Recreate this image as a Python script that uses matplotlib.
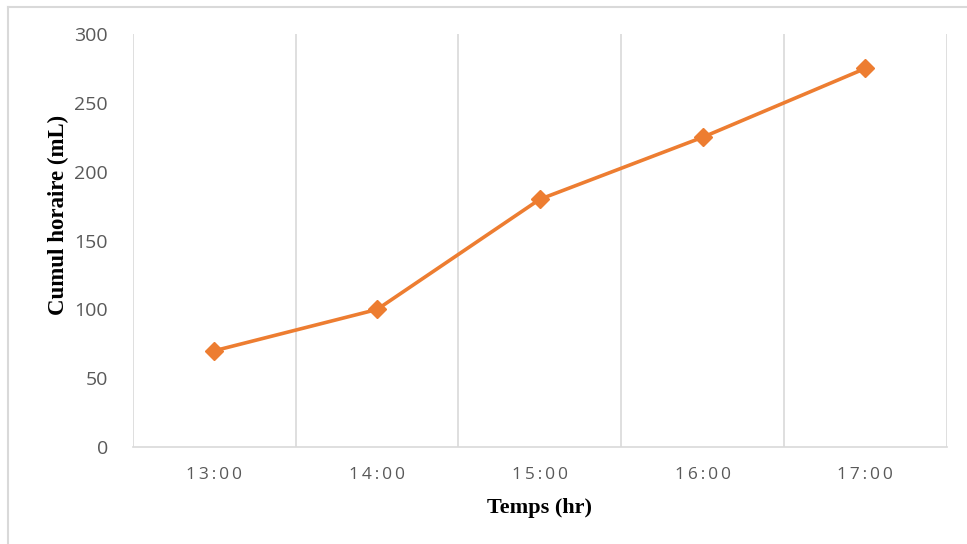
import matplotlib
matplotlib.use("Agg")
import matplotlib.pyplot as plt
from matplotlib.lines import Line2D

hours = ["13:00", "14:00", "15:00", "16:00", "17:00"]
cumul = [70, 100, 180, 225, 275]
y_ticks = [0, 50, 100, 150, 200, 250, 300]

grid_color = "#D9D9D9"
text_color = "#595959"
line_color = "#ED7D31"

fig = plt.figure(figsize=(9.67, 5.44), dpi=100)
ax = fig.add_axes([0.1375, 0.178, 0.8415, 0.7595])

x = list(range(len(hours)))
ax.plot(x, cumul, color=line_color, linewidth=2.6, marker="D",
        markersize=9.5, markeredgecolor=line_color, markerfacecolor=line_color,
        solid_capstyle="round", zorder=3, clip_on=False)

ax.set_xlim(-0.5, len(hours) - 0.5)
ax.set_ylim(0, 300)

# category boundary gridlines
for b in [i - 0.5 for i in range(len(hours) + 1)]:
    ax.axvline(b, color=grid_color, linewidth=1.2, zorder=1)

for s in ["top", "right", "left"]:
    ax.spines[s].set_visible(False)
ax.spines["bottom"].set_color(grid_color)
ax.spines["bottom"].set_linewidth(1.2)

def spaced(s):
    return "\u2009".join(s)

ax.set_xticks(x)
ax.set_xticklabels([spaced(h) for h in hours], fontsize=12.5,
                   color=text_color, family=["Open Sans", "DejaVu Sans"])
ax.set_yticks(y_ticks)
ax.set_yticklabels([str(v) for v in y_ticks], fontsize=14,
                   color=text_color, family="Open Sans")
ax.tick_params(axis="both", length=0)
ax.tick_params(axis="x", pad=14)
ax.tick_params(axis="y", pad=18)

ax.set_xlabel("Temps (hr)", fontsize=16, fontweight="bold",
              family="Liberation Serif", labelpad=11)
ax.set_ylabel("Cumul horaire (mL)", fontsize=16.5, fontweight="bold",
              family="Liberation Serif")
ax.yaxis.set_label_coords(-0.078, 0.562)

# chart area frame
fig.add_artist(Line2D([8 / 967, 1], [1 - 7 / 544, 1 - 7 / 544],
                      transform=fig.transFigure, color=grid_color, linewidth=1.5))
fig.add_artist(Line2D([8 / 967, 8 / 967], [0, 1 - 7 / 544],
                      transform=fig.transFigure, color=grid_color, linewidth=1.5))

fig.savefig("out.png", dpi=100)
